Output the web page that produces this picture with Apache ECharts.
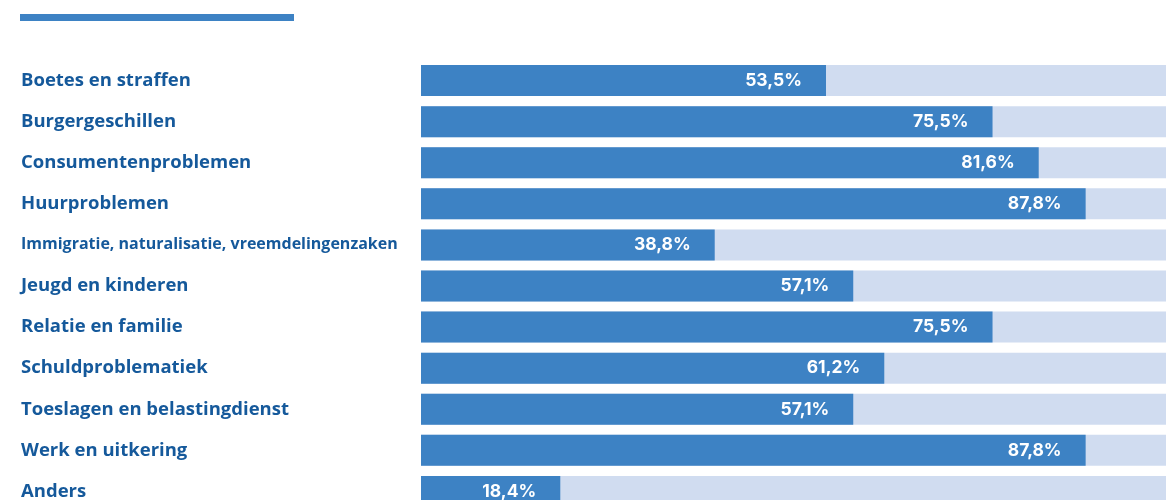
<!DOCTYPE html>
<html>
<head>
<meta charset="utf-8">
<script src="https://cdn.jsdelivr.net/npm/echarts@6/dist/echarts.min.js"></script>
<style>
  html, body { margin: 0; padding: 0; background: #fff; }
  #main { width: 1166px; height: 500px; }
</style>
</head>
<body>
<div id="main"></div>
<script>
// categorieën en percentages
var categories = ['Boetes en straffen', 'Burgergeschillen', 'Consumentenproblemen', 'Huurproblemen',
  'Immigratie, naturalisatie, vreemdelingenzaken', 'Jeugd en kinderen', 'Relatie en familie',
  'Schuldproblematiek', 'Toeslagen en belastingdienst', 'Werk en uitkering', 'Anders']
var percentages = [53.5, 75.5, 81.6, 87.8, 38.8, 57.1, 75.5, 61.2, 57.1, 87.8, 18.4]

var myChart = echarts.init(document.getElementById('main'))

var option = {
  animation: false,
  graphic: [
    { type: 'rect', shape: { x: 20, y: 14, width: 274, height: 7 }, style: { fill: '#3d82c4' } }
  ],
  grid: { left: 421, top: 60, width: 757, height: 452, outerBoundsMode: 'none' },
  xAxis: {
    type: 'value', min: 0, max: 100,
    show: false
  },
  yAxis: {
    type: 'category',
    inverse: true,
    data: categories.map(function (c) {
      return c.length > 30 ? { value: c, textStyle: { fontSize: 16, align: 'left' } } : c
    }),
    axisLine: { show: false },
    axisTick: { show: false },
    axisLabel: {
      align: 'left',
      margin: 400,
      color: '#15599b',
      fontFamily: 'Open Sans',
      fontWeight: 'bold',
      fontSize: 18.5
    }
  },
  series: [
    {
      type: 'bar',
      data: percentages,
      barWidth: 31,
      itemStyle: { color: '#3d82c4' },
      showBackground: true,
      backgroundStyle: { color: '#d0dcf0' },
      label: {
        show: true,
        position: 'insideRight',
        distance: 24,
        color: '#fff',
        fontFamily: 'Inter',
        fontWeight: 'bold',
        fontSize: 17.5,
        formatter: function (p) { return p.value.toFixed(1).replace('.', ',') + '%' }
      }
    }
  ]
}

myChart.setOption(option)
</script>
</body>
</html>
